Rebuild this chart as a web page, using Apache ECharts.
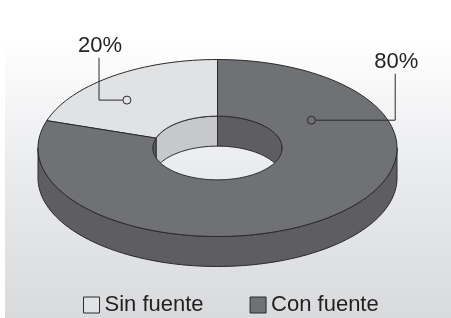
<!DOCTYPE html>
<html>
<head>
<meta charset="utf-8">
<script src="https://cdn.jsdelivr.net/npm/echarts@6/dist/echarts.min.js"></script>
<style>
html,body{margin:0;padding:0;background:#fff;}
#chart{width:451px;height:318px;}
</style>
</head>
<body>
<div id="chart"></div>
<script>
// datos
var categorias = ['Sin fuente', 'Con fuente'];
var valores = [20, 80];
var etiquetas = ['20%', '80%'];

// colores por porción: cara superior, pared
var colTop = ['#e1e2e4', '#707175'];
var colWall = ['#c7c8ca', '#5e5e61'];
var lineCol = '#2a2a2a';
var fuente = '"Liberation Sans", Arial, sans-serif';

// posición de las etiquetas (ángulo desde arriba, radio relativo, columna x, tope y)
var labelSpots = [
    {ang: -43, r: 0.74, lx: -0.66, ly: -1.02},
    {ang: 59, r: 0.61, lx: 0.99, ly: -0.84}
];

var total = valores.reduce(function (a, b) { return a + b; }, 0);

function geo(api) {
    return {
        cx: 217.5,
        cy: 148,
        rx: 179.5,
        ry: 88.5,
        inner: 0.36,
        depth: 30
    };
}

function pt(g, k, ang, dy) {
    var t = ang * Math.PI / 180;
    return [g.cx + g.rx * k * Math.sin(t), g.cy - g.ry * k * Math.cos(t) + (dy || 0)];
}

function arc(g, k, a0, a1, dy) {
    var n = Math.max(2, Math.ceil(Math.abs(a1 - a0) / 2));
    var out = [];
    for (var i = 0; i <= n; i++) {
        out.push(pt(g, k, a0 + (a1 - a0) * i / n, dy));
    }
    return out;
}

// intersección de [a0,a1] con el rango visible [lo,hi]
function clip(a0, a1, lo, hi) {
    var res = [];
    for (var s = -1; s <= 1; s++) {
        var l = Math.max(a0, lo + 360 * s), h = Math.min(a1, hi + 360 * s);
        if (h > l) res.push([l, h]);
    }
    return res;
}

function wall(g, k, r, idx) {
    var top = arc(g, k, r[0], r[1], 0);
    var bot = arc(g, k, r[1], r[0], g.depth);
    return {
        type: 'polygon',
        shape: {points: top.concat(bot)},
        style: {fill: colWall[idx], stroke: lineCol, lineWidth: 1}
    };
}

function makeRender(idx) {
    return function (params, api) {
        var g = geo(api);
        var before = 0;
        for (var i = 0; i < idx; i++) before += valores[i];
        // sentido antihorario desde las 12
        var a1 = -before / total * 360;
        var a0 = -(before + valores[idx]) / total * 360;
        var kids = [];
        // pared exterior (mitad frontal)
        clip(a0, a1, 90, 270).forEach(function (r) { kids.push(wall(g, 1, r, idx)); });
        // pared interior (mitad trasera)
        clip(a0, a1, -90, 90).forEach(function (r) { kids.push(wall(g, g.inner, r, idx)); });
        // cara superior
        var face = arc(g, 1, a0, a1, 0).concat(arc(g, g.inner, a1, a0, 0));
        kids.push({
            type: 'polygon',
            shape: {points: face},
            style: {fill: colTop[idx], stroke: lineCol, lineWidth: 1}
        });
        // etiqueta con guía
        var sp = labelSpots[idx];
        var p = pt(g, sp.r, sp.ang, 0);
        var lx = g.cx + sp.lx * g.rx;
        var ly = g.cy + sp.ly * g.ry;
        var dir = lx > p[0] ? 1 : -1;
        kids.push({
            type: 'polyline',
            shape: {points: [[p[0] + dir * 4, p[1]], [lx, p[1]], [lx, ly]]},
            style: {stroke: lineCol, lineWidth: 1, fill: null}
        });
        kids.push({
            type: 'circle',
            shape: {cx: p[0], cy: p[1], r: 4},
            style: {fill: colTop[idx], stroke: lineCol, lineWidth: 1}
        });
        kids.push({
            type: 'text',
            x: lx + 1,
            y: ly - 1,
            style: {
                text: etiquetas[idx],
                fill: '#231f20',
                font: '22px ' + fuente,
                align: 'center',
                verticalAlign: 'bottom'
            }
        });
        return {type: 'group', children: kids};
    };
}

var chart = echarts.init(document.getElementById('chart'));
var option = {
    animation: false,
    graphic: [{
        type: 'rect',
        z: -10,
        silent: true,
        shape: {x: 5, y: 38, width: 446, height: 280},
        style: {
            fill: new echarts.graphic.LinearGradient(0, 0, 0, 1, [
                {offset: 0, color: '#ffffff'},
                {offset: 0.45, color: '#ebecee'},
                {offset: 1, color: '#d9dadc'}
            ])
        }
    }],
    legend: {
        data: categorias,
        left: 78,
        top: 289,
        icon: 'rect',
        itemWidth: 16,
        itemHeight: 16,
        itemGap: 46,
        selectedMode: false,
        itemStyle: {borderColor: lineCol, borderWidth: 1},
        textStyle: {
            fontSize: 22,
            color: '#231f20',
            fontFamily: fuente
        }
    },
    series: categorias.map(function (name, i) {
        return {
            type: 'custom',
            name: name,
            coordinateSystem: 'none',
            silent: true,
            itemStyle: {color: colTop[i]},
            renderItem: makeRender(i),
            data: [valores[i]]
        };
    })
};
chart.setOption(option);
</script>
</body>
</html>
